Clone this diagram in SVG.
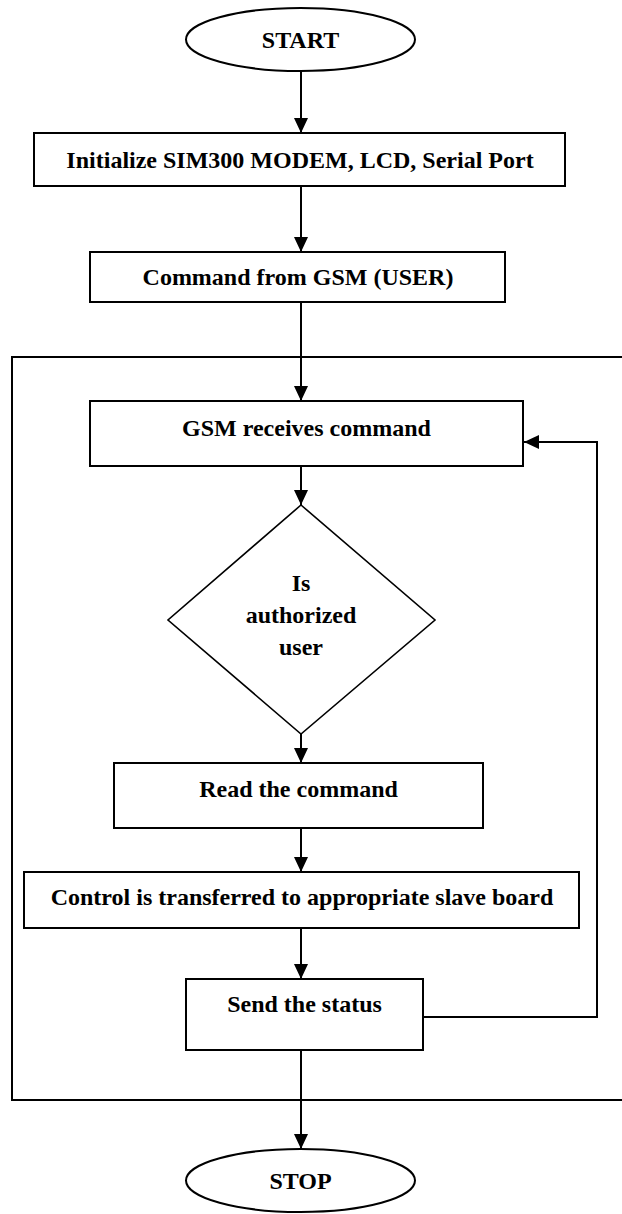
<svg xmlns="http://www.w3.org/2000/svg" width="622" height="1214" viewBox="0 0 622 1214">
  <style>
    .shape { fill: #fff; stroke: #000; stroke-width: 2; }
    .frame { fill: none; stroke: #000; stroke-width: 2; }
    .wire { fill: none; stroke: #000; stroke-width: 2; marker-end: url(#arrow); }
    .label { font-family: "Liberation Serif", "Times New Roman", serif; font-weight: bold; font-size: 24px; fill: #000; text-anchor: middle; }
  </style>
  <defs>
    <marker id="arrow" markerUnits="userSpaceOnUse" markerWidth="16" markerHeight="14" refX="15" refY="7" orient="auto">
      <path d="M0,0 L15,7 L0,14 Z" fill="#000"/>
    </marker>
  </defs>

  <rect x="0" y="0" width="622" height="1214" fill="#fff"/>

  <!-- loop frame around the command-handling section -->
  <rect id="loop-frame" class="frame" x="12" y="357" width="620" height="743"/>

  <g id="connectors">
    <line class="wire" x1="301" y1="71" x2="301" y2="133"/>
    <line class="wire" x1="301" y1="186" x2="301" y2="252"/>
    <line class="wire" x1="301" y1="302" x2="301" y2="401"/>
    <line class="wire" x1="301" y1="466" x2="301" y2="505"/>
    <line class="wire" x1="301" y1="734" x2="301" y2="763"/>
    <line class="wire" x1="301" y1="828" x2="301" y2="872"/>
    <line class="wire" x1="301" y1="928" x2="301" y2="979"/>
    <line class="wire" x1="301" y1="1050" x2="301" y2="1149"/>
    <polyline class="wire" points="423,1017 597,1017 597,442 524,442"/>
  </g>

  <g id="start">
    <ellipse class="shape" cx="300.5" cy="39.5" rx="114.5" ry="31.5"/>
    <text class="label" x="300.5" y="48">START</text>
  </g>

  <g id="init">
    <rect class="shape" x="34" y="133" width="531" height="53"/>
    <text class="label" x="300" y="168">Initialize SIM300 MODEM, LCD, Serial Port</text>
  </g>

  <g id="user-command">
    <rect class="shape" x="90" y="252" width="415" height="50"/>
    <text class="label" x="298" y="285">Command from GSM (USER)</text>
  </g>

  <g id="receive">
    <rect class="shape" x="90" y="401" width="433" height="65"/>
    <text class="label" x="306.5" y="436">GSM receives command</text>
  </g>

  <g id="authorized">
    <polygon class="shape" style="stroke-width:1.6" points="301,505 435,620 301,734 168,620"/>
    <text class="label" x="301" y="591">Is</text>
    <text class="label" x="301" y="623">authorized</text>
    <text class="label" x="301" y="655">user</text>
  </g>

  <g id="read">
    <rect class="shape" x="114" y="763" width="369" height="65"/>
    <text class="label" x="298.5" y="797">Read the command</text>
  </g>

  <g id="transfer">
    <rect class="shape" x="24" y="872" width="555" height="56"/>
    <text class="label" x="302" y="905">Control is transferred to appropriate slave board</text>
  </g>

  <g id="status">
    <rect class="shape" x="186" y="979" width="237" height="71"/>
    <text class="label" x="304.5" y="1012">Send the status</text>
  </g>

  <g id="stop">
    <ellipse class="shape" cx="300.5" cy="1180.5" rx="114.5" ry="31.5"/>
    <text class="label" x="300.5" y="1189">STOP</text>
  </g>
</svg>
